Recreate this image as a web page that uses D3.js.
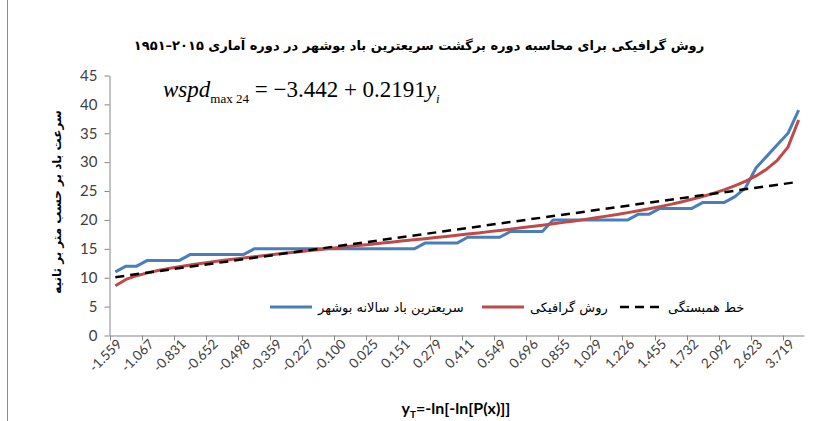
<!DOCTYPE html>
<html>
<head>
<meta charset="utf-8">
<script src="https://cdn.jsdelivr.net/npm/d3@7"></script>
<style>
  body { margin: 0; background: #fff; }
  svg { display: block; }
</style>
</head>
<body>
<svg id="drawing_region"></svg>
<script>
// reduced variate y_T (Gringorten plotting positions, 1951-2015)
const categories = [
  "-1.559","-1.317","-1.174","-1.067","-0.978","-0.900","-0.831","-0.767","-0.708","-0.652",
  "-0.598","-0.547","-0.498","-0.451","-0.404","-0.359","-0.314","-0.270","-0.227","-0.185",
  "-0.142","-0.100","-0.058","-0.017","0.025","0.067","0.109","0.151","0.193","0.236",
  "0.279","0.322","0.367","0.411","0.456","0.503","0.549","0.597","0.646","0.696",
  "0.748","0.801","0.855","0.911","0.969","1.029","1.092","1.158","1.226","1.298",
  "1.374","1.455","1.540","1.633","1.732","1.840","1.959","2.092","2.243","2.416",
  "2.623","2.879","3.216","3.719","4.752"
];

// observed annual max wind speed (sorted)
const windObserved = [
  11, 12, 12, 13, 13, 13, 13, 14, 14, 14,
  14, 14, 14, 15, 15, 15, 15, 15, 15, 15,
  15, 15, 15, 15, 15, 15, 15, 15, 15, 16,
  16, 16, 16, 17, 17, 17, 17, 18, 18, 18,
  18, 20, 20, 20, 20, 20, 20, 20, 20, 21,
  21, 22, 22, 22, 22, 23, 23, 23, 24, 25.5,
  29, 31, 33, 35, 39
];

// graphical (Gumbel) method
const windGraphical = [
  8.60, 9.70, 10.35, 10.84, 11.24, 11.60, 11.91, 12.20, 12.47, 12.72,
  12.97, 13.20, 13.43, 13.64, 13.85, 14.06, 14.26, 14.46, 14.66, 14.85,
  15.04, 15.24, 15.43, 15.61, 15.80, 16.00, 16.19, 16.38, 16.57, 16.76,
  16.96, 17.15, 17.36, 17.56, 17.76, 17.98, 18.19, 18.41, 18.63, 18.86,
  19.09, 19.33, 19.58, 19.83, 20.10, 20.37, 20.66, 20.96, 21.27, 21.59,
  21.94, 22.31, 22.69, 23.12, 23.57, 24.06, 24.60, 25.20, 25.89, 26.68,
  27.62, 28.78, 30.32, 32.60, 37.30
];

// correlation (trend) line at first and last category
const trendCategories = ["-1.559", "4.752"];
const trendValues = [10.1, 26.6];

const xTickLabels = [
  "-1.559","-1.067","-0.831","-0.652","-0.498","-0.359","-0.227","-0.100","0.025","0.151","0.279",
  "0.411","0.549","0.696","0.855","1.029","1.226","1.455","1.732","2.092","2.623","3.719"
];
const yTicks = [0, 5, 10, 15, 20, 25, 30, 35, 40, 45];

const seriesNames = ["سریعترین باد سالانه بوشهر", "روش گرافیکی", "خط همبستگی"];

const titleText = "روش گرافیکی برای محاسبه دوره برگشت سریعترین باد بوشهر  در دوره آماری ۲۰۱۵–۱۹۵۱";
const yLabelText = "سرعت باد بر حسب متر بر ثانیه";

const config = {
  width: 815,
  height: 421,
  plot: { left: 110, right: 804, top: 75.5, bottom: 335.5 }
};

const svg = d3.select("#drawing_region")
  .attr("width", config.width)
  .attr("height", config.height);

// chart area left border
svg.append("line")
  .attr("x1", 7.5).attr("x2", 7.5)
  .attr("y1", 0).attr("y2", config.height)
  .attr("stroke", "#8c8c8c").attr("stroke-width", 1);

const xscale = d3.scaleBand()
  .domain(categories)
  .range([config.plot.left, config.plot.right]);

const yscale = d3.scaleLinear()
  .domain([0, 45])
  .range([config.plot.bottom, config.plot.top]);

const cx = d => xscale(d) + xscale.bandwidth() / 2;

// y axis
const yaxis = d3.axisLeft(yscale)
  .tickValues(yTicks)
  .tickSize(5)
  .tickPadding(7)
  .tickSizeOuter(0);

const yaxis_group = svg.append("g")
  .attr("transform", `translate(${config.plot.left - 0.5}, 0)`)
  .call(yaxis);
yaxis_group.select(".domain").attr("stroke", "#868686");
yaxis_group.selectAll(".tick line").attr("stroke", "#868686");
yaxis_group.selectAll(".tick text")
  .attr("fill", "#404040")
  .style("font-family", "Lato, 'Open Sans', sans-serif")
  .style("font-size", "15px");

// x axis: labels at every third category, ticks on band edges
const xaxis = d3.axisBottom(xscale)
  .tickValues(xTickLabels)
  .tickSize(0)
  .tickSizeOuter(0)
  .tickFormat(d => d);

const xaxis_group = svg.append("g")
  .attr("transform", `translate(0, ${config.plot.bottom})`)
  .call(xaxis);
xaxis_group.select(".domain").attr("stroke", "#868686");
xaxis_group.selectAll(".tick text")
  .attr("fill", "#404040")
  .attr("text-anchor", "end")
  .attr("transform", "translate(4, 6) rotate(-45)")
  .attr("dy", "0.35em")
  .attr("y", 0)
  .style("font-family", "Lato, 'Open Sans', sans-serif")
  .style("font-size", "13.5px");

xaxis_group.selectAll(".edge-tick")
  .data(xTickLabels)
  .enter()
  .append("line")
  .attr("class", "edge-tick")
  .attr("x1", d => Math.round(xscale(d)) + 0.5)
  .attr("x2", d => Math.round(xscale(d)) + 0.5)
  .attr("y1", 0)
  .attr("y2", 5)
  .attr("stroke", "#868686");

// series
const line = d3.line()
  .x((d, i) => cx(categories[i]))
  .y(d => yscale(d));

svg.append("path")
  .attr("d", line(windObserved))
  .attr("fill", "none")
  .attr("stroke", "#4a7ebb")
  .attr("stroke-width", 3)
  .attr("stroke-linejoin", "round");

svg.append("path")
  .attr("d", line(windGraphical))
  .attr("fill", "none")
  .attr("stroke", "#be4b48")
  .attr("stroke-width", 3)
  .attr("stroke-linejoin", "round");

const trendLine = d3.line()
  .x((d, i) => cx(trendCategories[i]))
  .y(d => yscale(d));

svg.append("path")
  .attr("d", trendLine(trendValues))
  .attr("fill", "none")
  .attr("stroke", "#000")
  .attr("stroke-width", 2.5)
  .attr("stroke-dasharray", "9,6");

// title
svg.append("text")
  .attr("x", 419)
  .attr("y", 50)
  .attr("text-anchor", "middle")
  .style("font-family", "'DejaVu Sans', sans-serif")
  .style("font-weight", "bold")
  .style("font-size", "13px")
  .attr("fill", "#000")
  .text(titleText);

// y label
svg.append("text")
  .attr("transform", "translate(61, 202) rotate(-90)")
  .attr("text-anchor", "middle")
  .style("font-family", "'DejaVu Sans', sans-serif")
  .style("font-weight", "bold")
  .style("font-size", "12px")
  .attr("fill", "#000")
  .text(yLabelText);

// x label
const xlabel = svg.append("text")
  .attr("x", 456)
  .attr("y", 414)
  .attr("text-anchor", "middle")
  .style("font-family", "Lato, 'Open Sans', sans-serif")
  .style("font-weight", "bold")
  .style("font-size", "16px")
  .attr("fill", "#000");
xlabel.append("tspan").text("y");
xlabel.append("tspan").attr("dy", 4).style("font-size", "10px").text("T");
xlabel.append("tspan").attr("dy", -4).text("=-ln[-ln[P(x)]]");

// regression equation
const eq = svg.append("text")
  .attr("x", 163)
  .attr("y", 97)
  .style("font-family", "'Liberation Serif', serif")
  .style("font-size", "23px")
  .attr("fill", "#000");
eq.append("tspan").style("font-style", "italic").text("wspd");
eq.append("tspan").attr("dy", 6).style("font-size", "13px").text("max 24");
eq.append("tspan").attr("dy", -6).text(" = \u22123.442 + 0.2191");
eq.append("tspan").style("font-style", "italic").text("y");
eq.append("tspan").attr("dy", 6).style("font-size", "13px").style("font-style", "italic").text("i");

// legend
const legendItems = [
  { name: seriesNames[0], color: "#4a7ebb", dash: null, x: 270, width: 3 },
  { name: seriesNames[1], color: "#be4b48", dash: null, x: 482, width: 3 },
  { name: seriesNames[2], color: "#000", dash: "9,6", x: 620, width: 2.5 }
];

const legend = svg.append("g").attr("transform", "translate(0, 307)");
const legendEntry = legend.selectAll("g")
  .data(legendItems)
  .enter()
  .append("g")
  .attr("transform", d => `translate(${d.x}, 0)`);

legendEntry.append("line")
  .attr("x1", 0).attr("x2", 42)
  .attr("y1", 0).attr("y2", 0)
  .attr("stroke", d => d.color)
  .attr("stroke-width", d => d.width)
  .attr("stroke-dasharray", d => d.dash);

legendEntry.append("text")
  .attr("x", 48)
  .attr("y", 5)
  .style("font-family", "'DejaVu Sans', sans-serif")
  .style("font-size", "13px")
  .attr("fill", "#000")
  .text(d => d.name);
</script>
</body>
</html>
